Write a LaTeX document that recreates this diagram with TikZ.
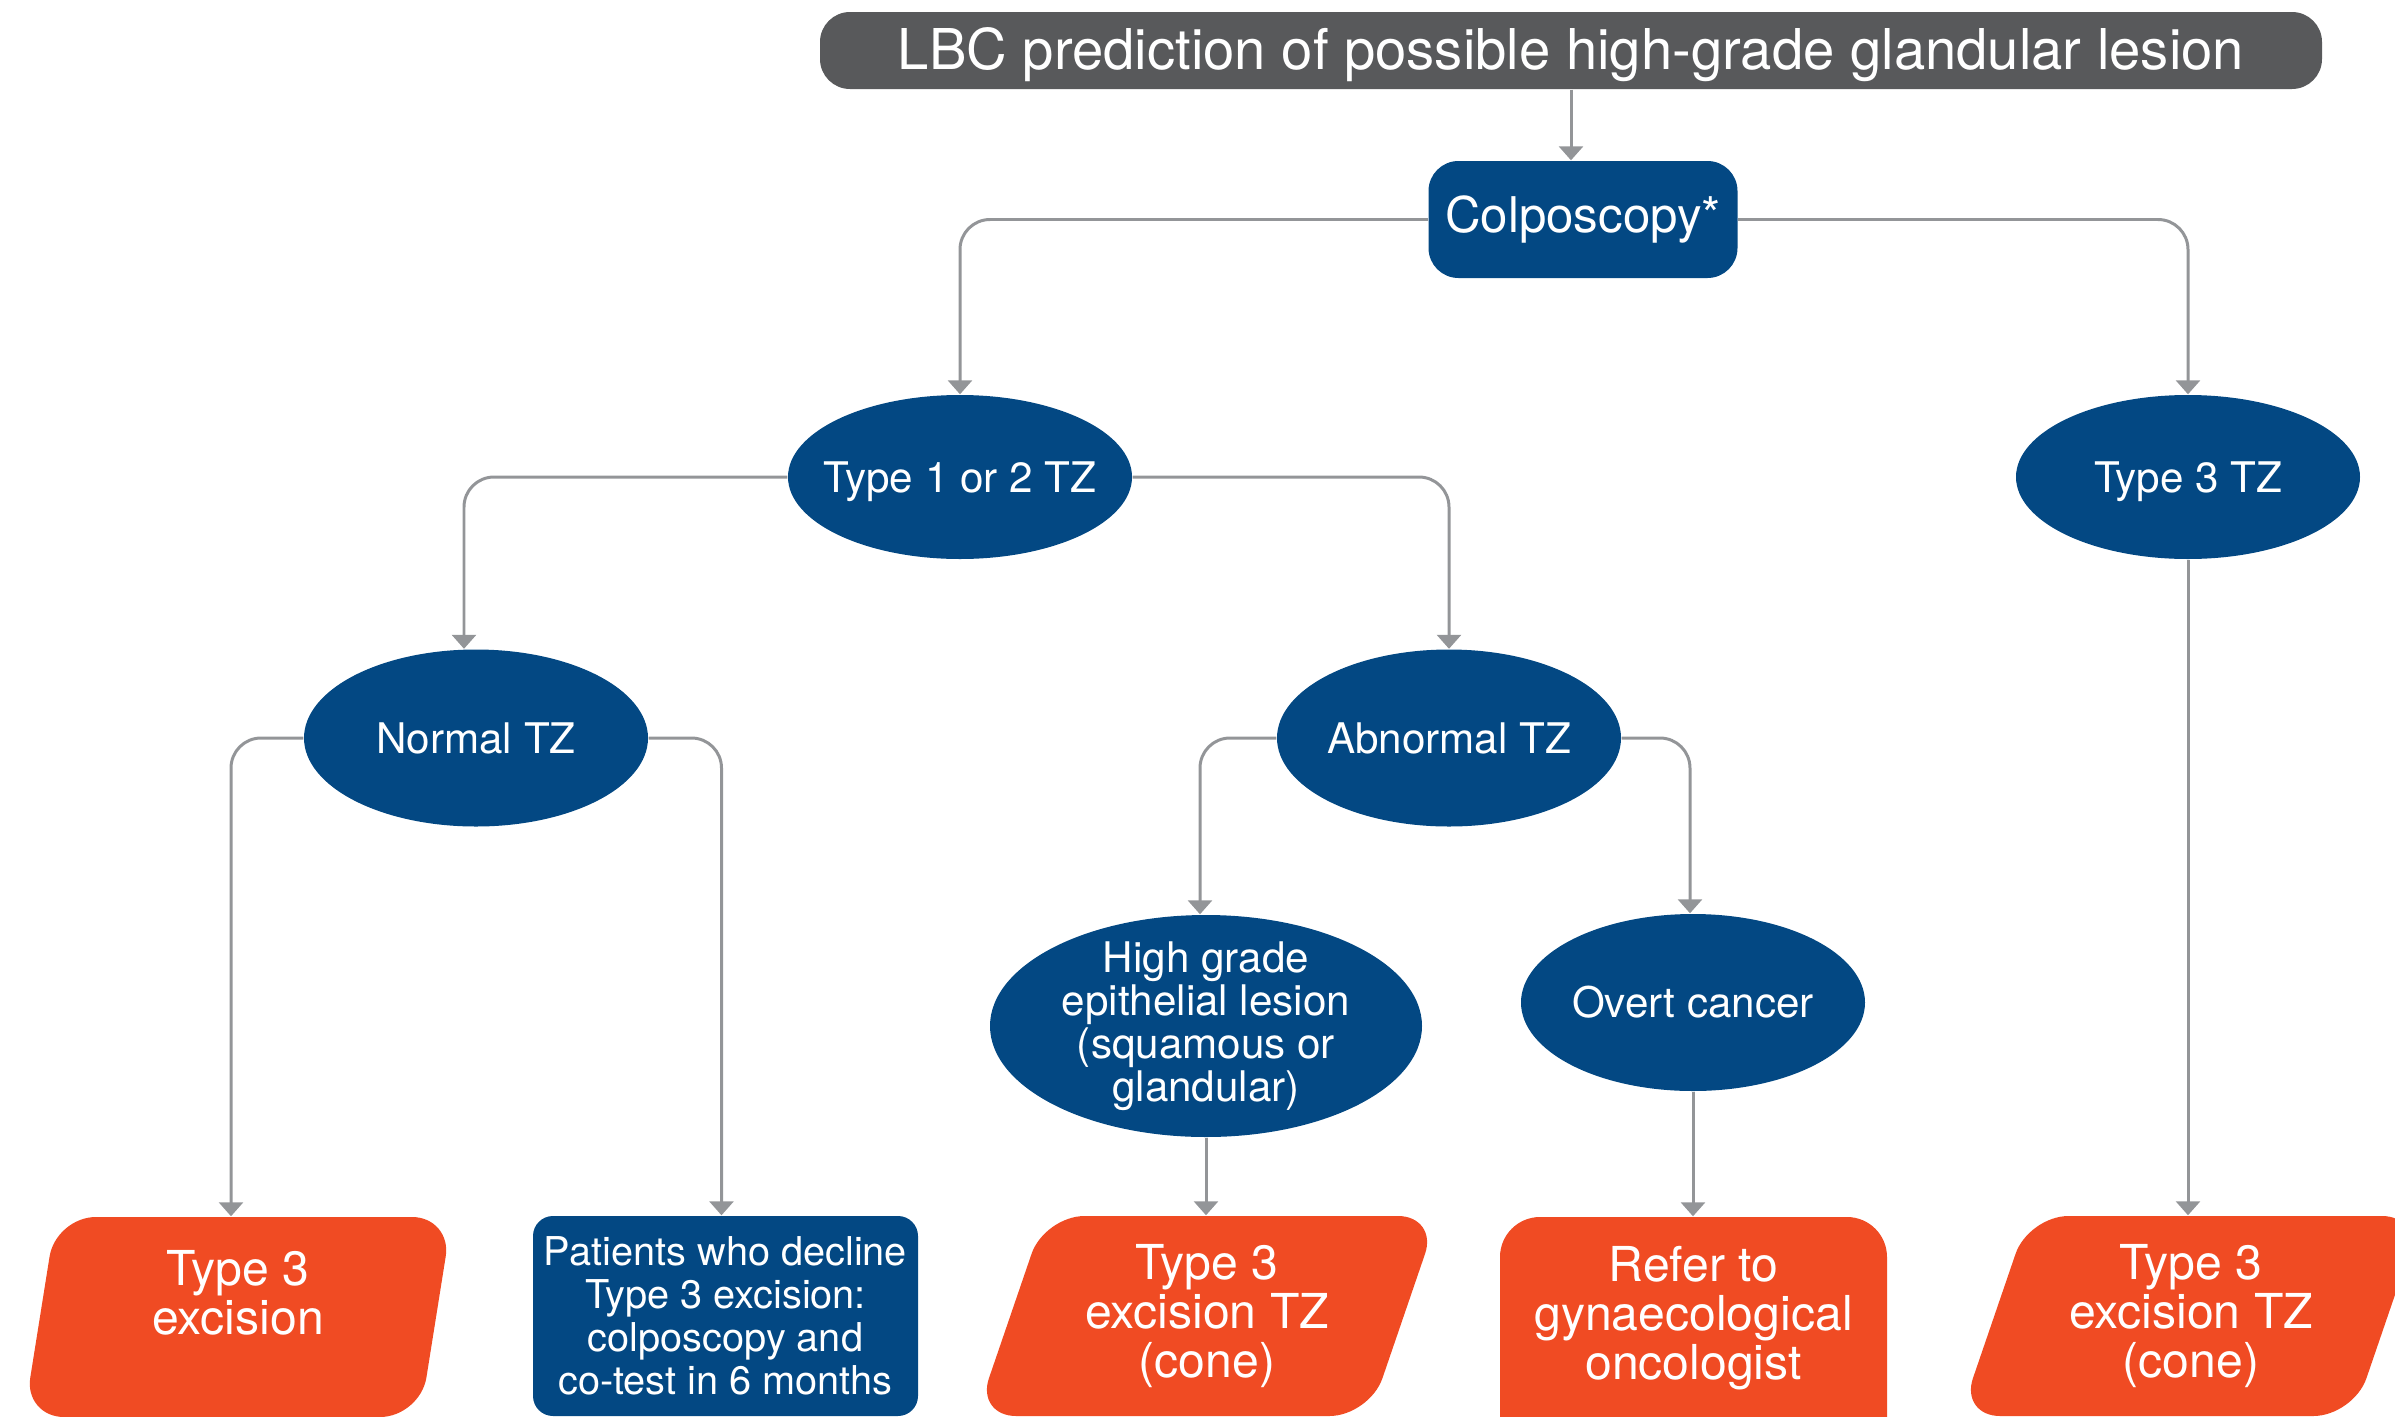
\documentclass[tikz,border=0pt]{standalone}
\usepackage{fontspec}
\setmainfont{TeX Gyre Heros}
\usepackage{tikz}
\usetikzlibrary{arrows.meta,shapes.geometric}
\pgfdeclarelayer{edgelayer}
\pgfdeclarelayer{nodelayer}
\pgfsetlayers{edgelayer,nodelayer,main}
\definecolor{navy}{RGB}{3,72,131}
\definecolor{flame}{RGB}{240,75,35}
\definecolor{slate}{RGB}{88,89,91}
\definecolor{wire}{RGB}{147,149,152}
\tikzstyle{title bar}=[rectangle, rounded corners=0.3cm, fill=slate, text=white, inner sep=0pt, minimum width=15.02cm, minimum height=0.77cm, text height=14.1pt, text depth=3.4pt, font=\fontsize{16}{18}\selectfont]
\tikzstyle{blue box}=[rectangle, rounded corners=0.3cm, fill=navy, text=white, inner sep=0pt, align=center]
\tikzstyle{blue ellipse}=[ellipse, fill=navy, text=white, inner sep=-0.3cm, minimum width=3.44cm, minimum height=1.77cm, align=center, font=\fontsize{12}{12.2}\selectfont]
\tikzstyle{orange slant}=[trapezium, trapezium stretches body, rounded corners=0.4cm, fill=flame, text=white, inner sep=0pt, minimum height=2cm, align=center, font=\fontsize{13.7}{13.9}\selectfont]
\tikzstyle{orange box}=[rectangle, rounded corners=0.4cm, fill=flame, text=white, inner sep=0pt, minimum width=3.87cm, minimum height=2.4cm, text depth=0.485cm, align=center, font=\fontsize{13.7}{13.9}\selectfont]
\tikzstyle{grey arrow}=[draw=wire, line width=0.85pt, rounded corners=0.3cm, -{Triangle[width=0.24cm, length=0.14cm]}]

\begin{document}
\begin{tikzpicture}
	\useasboundingbox (0, 0) rectangle (23.95, -14.17);
	\begin{pgfonlayer}{nodelayer}
		\node [style=title bar] (0) at (15.71, -0.505) {LBC prediction of possible high-grade glandular lesion};
		\node [style=blue box, minimum width=3.09cm, minimum height=1.17cm, font=\fontsize{14}{16}\selectfont] (1) at (15.83, -2.195) {Colposcopy*};
		\node [style=blue ellipse, minimum height=1.64cm, text depth=0pt] (2) at (9.60, -4.77) {Type 1 or 2 TZ};
		\node [style=blue ellipse, minimum height=1.64cm, text depth=0pt] (3) at (21.88, -4.77) {Type 3 TZ};
		\node [style=blue ellipse] (4) at (4.76, -7.38) {Normal TZ};
		\node [style=blue ellipse] (5) at (14.49, -7.38) {Abnormal TZ};
		\node [style=blue ellipse, minimum width=4.32cm, minimum height=2.22cm] (6) at (12.06, -10.26) {High grade\\epithelial lesion\\(squamous or\\glandular)};
		\node [style=blue ellipse] (7) at (16.93, -10.025) {Overt cancer};
		\node [style=orange slant, trapezium left angle=76.5, trapezium right angle=103.5, minimum width=4.28cm] (8) at (2.38, -13.17) {Type 3\\excision\\\mbox{}};
		\node [style=blue box, rounded corners=0.2cm, minimum width=3.85cm, minimum height=2cm, font=\fontsize{11.3}{12.2}\selectfont] (9) at (7.255, -13.16) {Patients who decline\\Type 3 excision:\\colposcopy and\\co-test in 6 months};
		\node [style=orange slant, trapezium left angle=64.4, trapezium right angle=115.6, minimum width=4.62cm] (10) at (12.07, -13.16) {Type 3\\excision TZ\\(cone)};
		\node [style=orange box] (11) at (16.935, -13.37) {Refer to\\gynaecological\\oncologist};
		\node [style=orange slant, trapezium left angle=64.4, trapezium right angle=115.6, minimum width=4.62cm] (12) at (21.91, -13.16) {Type 3\\excision TZ\\(cone)};
	\end{pgfonlayer}
	\begin{pgfonlayer}{edgelayer}
		\draw [style=grey arrow] (0.south) -- (0.south |- 1.north);
		\draw [style=grey arrow] (1.west) -| (2);
		\draw [style=grey arrow] (1.east) -| (3);
		\draw [style=grey arrow] (2.west) -| ([xshift=-0.12cm]4.north);
		\draw [style=grey arrow] (2.east) -| (5);
		\draw [style=grey arrow] (4.west) -| ([xshift=-0.07cm]8.north);
		\draw [style=grey arrow] (4.east) -| ([xshift=-0.04cm]9.north);
		\draw [style=grey arrow] (5.west) -| ([xshift=-0.06cm]6.north);
		\draw [style=grey arrow] (5.east) -| ([xshift=-0.03cm]7.north);
		\draw [style=grey arrow] (6) -- (6 |- 10.north);
		\draw [style=grey arrow] (7) -- (7 |- 11.north);
		\draw [style=grey arrow] (3) -- (3 |- 12.north);
	\end{pgfonlayer}
\end{tikzpicture}
\end{document}
